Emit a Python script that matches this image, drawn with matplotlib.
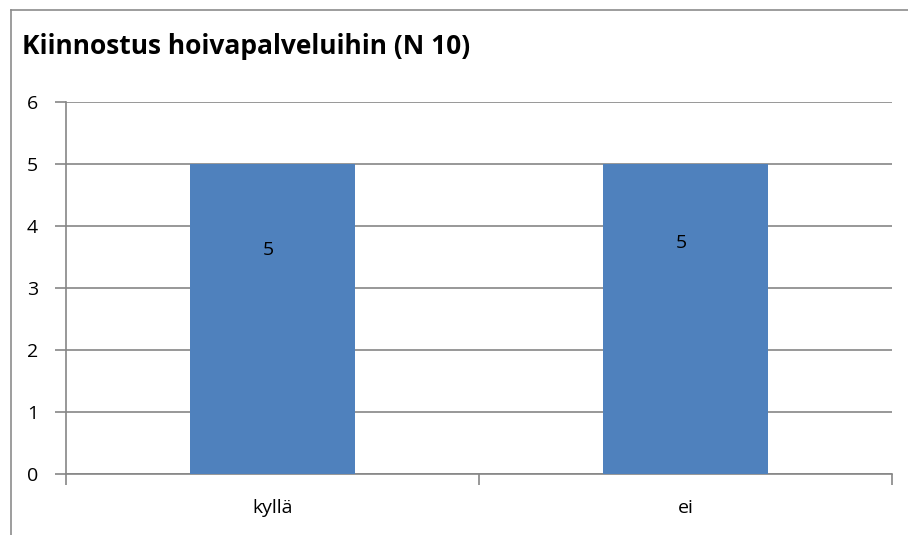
import matplotlib.pyplot as plt
from matplotlib.lines import Line2D

categories = ["kyllä", "ei"]
values = [5, 5]
label_y = [3.62, 3.72]
yticks = [0, 1, 2, 3, 4, 5, 6]

plt.rcParams['font.family'] = ['Open Sans', 'DejaVu Sans']

fig = plt.figure(figsize=(9.08, 5.35), dpi=100)
W, H = 908, 535
ax = fig.add_axes([66 / W, 1 - 474 / H, (892 - 66) / W, (474 - 102) / H])

x = list(range(len(categories)))
ax.bar(x, values, width=0.4, color="#4F81BD", zorder=3)
for xi, v, ly in zip(x, values, label_y):
    ax.text(xi - 0.01, ly, str(v), ha="center", va="center", fontsize=14, color="black", zorder=4)

ax.set_xlim(-0.5, len(categories) - 0.5)
ax.set_ylim(0, 6)
ax.set_yticks(yticks)
ax.set_yticklabels([str(t) for t in yticks], fontsize=14)
ax.yaxis.grid(True, color="#868686", linewidth=1.2, zorder=0)
ax.set_xticks([-0.5, 0.5, 1.5], minor=False)
ax.set_xticklabels([])
ax.set_xticks(x, minor=True)
ax.set_xticklabels(categories, minor=True, fontsize=14)
ax.tick_params(axis="x", which="minor", length=0, pad=18)
ax.tick_params(axis="x", which="major", length=8, color="#868686", width=1.2)
ax.tick_params(axis="y", length=8, color="#868686", width=1.2, pad=12)

for side in ["top", "right"]:
    ax.spines[side].set_visible(False)
for side in ["left", "bottom"]:
    ax.spines[side].set_color("#868686")
    ax.spines[side].set_linewidth(1.2)

# outer chart frame (cropped at right and bottom)
fig.add_artist(Line2D([11 / W, 11 / W], [0, 1 - 10 / H], color="#8c8c8c", linewidth=1.2))
fig.add_artist(Line2D([11 / W, 1], [1 - 10 / H, 1 - 10 / H], color="#8c8c8c", linewidth=1.2))

fig.text(22 / W, 1 - 47 / H, "Kiinnostus hoivapalveluihin (N 10)", fontsize=19,
         fontweight="bold", ha="left", va="center")

fig.savefig("out.png", dpi=100)
